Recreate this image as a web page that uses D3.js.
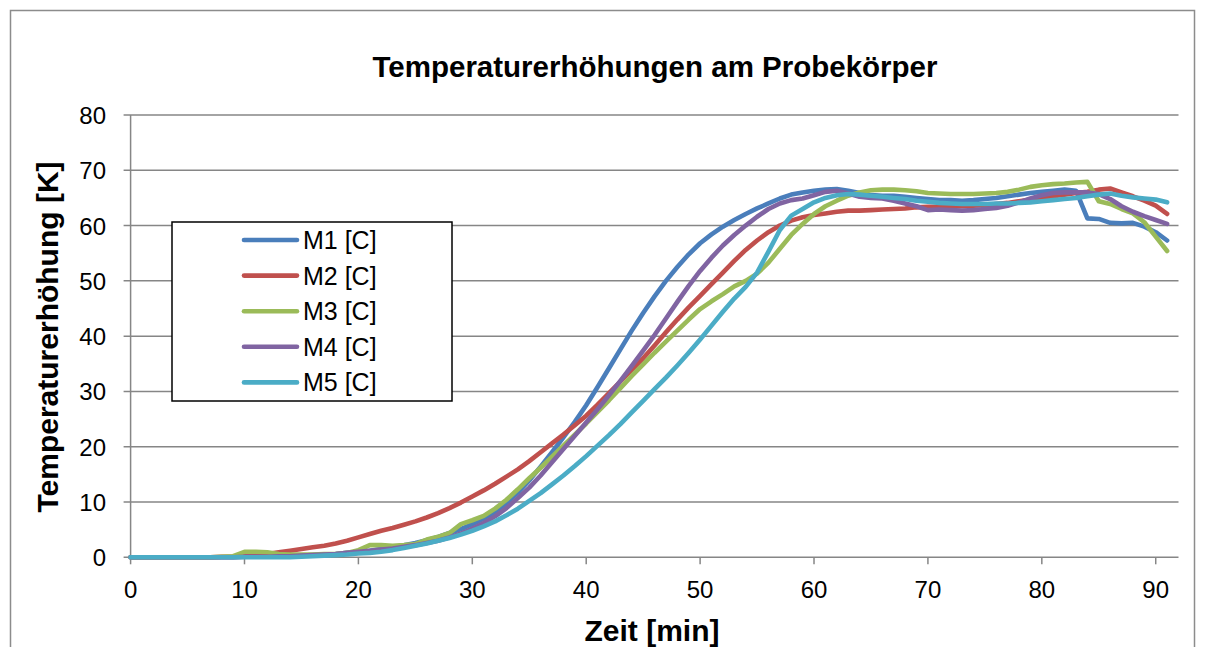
<!DOCTYPE html>
<html>
<head>
<meta charset="utf-8">
<script src="https://cdnjs.cloudflare.com/ajax/libs/d3/7.8.5/d3.min.js"></script>
<style>
    body { margin: 0; background: #fff; }
    svg { font-family: "Liberation Sans", Arial, sans-serif; }
    .grid line { stroke: #868686; stroke-width: 1.5; }
    .series { fill: none; stroke-width: 4.6; stroke-linejoin: round; stroke-linecap: round; }
</style>
</head>
<body>
<div id="chart"></div>
<script>
    const width = 1205;
    const height = 647;

    // time in minutes
    const minutes = d3.range(0, 92);

    const seriesNames = ["M1 [C]", "M2 [C]", "M3 [C]", "M4 [C]", "M5 [C]"];
    const seriesColors = ["#4A7EBB", "#C0504D", "#9BBB59", "#8064A2", "#4BACC6"];

    const m1 = [0,0,0,0,0,0,0,0,0,0,
        0.1,0.1,0.2,0.2,0.3,0.3,0.4,0.5,0.6,0.8,
        1.0,1.2,1.5,1.8,2.2,2.6,3.1,3.7,4.4,5.1,
        6.0,7.0,8.2,9.8,11.7,13.9,16.4,19.0,21.7,24.5,
        27.5,30.8,34.2,37.6,41.0,44.2,47.2,50.0,52.5,54.8,
        56.8,58.4,59.8,61.0,62.1,63.1,64.0,64.9,65.6,66.0,
        66.3,66.5,66.6,66.3,65.9,65.5,65.4,65.4,65.2,65.0,
        64.8,64.6,64.6,64.5,64.6,64.8,65.0,65.3,65.6,65.9,
        66.1,66.3,66.5,66.3,61.3,61.2,60.5,60.4,60.5,59.8,
        58.8,57.3];

    const m2 = [0,0,0,0,0,0,0,0,0.1,0.1,
        0.3,0.4,0.6,0.9,1.2,1.5,1.8,2.1,2.5,3.0,
        3.6,4.2,4.8,5.3,5.9,6.5,7.2,8.0,8.9,9.9,
        11.0,12.1,13.3,14.6,15.9,17.4,19.0,20.6,22.2,23.9,
        25.6,27.6,29.7,31.8,33.9,36.0,38.3,40.7,43.0,45.2,
        47.3,49.4,51.5,53.6,55.6,57.3,58.8,60.0,60.9,61.5,
        61.9,62.2,62.5,62.7,62.7,62.8,62.9,63.0,63.1,63.3,
        63.4,63.4,63.5,63.5,63.6,63.7,63.9,64.1,64.4,64.7,
        65.0,65.3,65.6,65.9,66.1,66.5,66.7,66.0,65.3,64.5,
        63.6,62.1];

    const m3 = [0,0,0,0,0,0,0,0,0.1,0.2,
        1.0,1.0,0.9,0.6,0.5,0.5,0.5,0.6,0.6,0.8,
        1.3,2.2,2.2,2.1,2.2,2.4,3.2,3.7,4.4,6.0,
        6.7,7.5,8.8,10.4,12.3,14.3,16.2,18.2,20.2,22.2,
        24.2,26.3,28.4,30.6,32.8,34.9,37.0,39.0,41.0,43.0,
        44.9,46.3,47.6,49.0,50.0,51.3,53.3,55.8,58.3,60.3,
        62.1,63.5,64.5,65.4,66.0,66.4,66.5,66.5,66.4,66.2,
        65.9,65.8,65.7,65.7,65.7,65.8,65.9,66.1,66.5,67.0,
        67.3,67.5,67.6,67.8,67.9,64.4,63.9,63.0,62.2,60.6,
        58.0,55.4];

    const m4 = [0,0,0,0,0,0,0,0,0,0,
        0.1,0.1,0.1,0.2,0.2,0.3,0.4,0.5,0.6,0.8,
        1.0,1.2,1.4,1.6,1.9,2.2,2.6,3.0,3.6,4.3,
        5.2,6.2,7.4,8.9,10.7,12.6,14.8,17.2,19.6,22.0,
        24.4,26.8,29.3,31.9,34.6,37.4,40.2,43.2,46.2,49.1,
        51.8,54.2,56.4,58.3,60.0,61.6,63.0,64.0,64.6,64.9,
        65.5,66.1,66.3,65.8,65.2,65.0,64.9,64.5,64.0,63.5,
        62.8,62.9,62.8,62.7,62.8,63.0,63.2,63.6,64.2,64.9,
        65.5,65.9,66.0,66.0,66.0,65.7,64.8,63.5,62.5,61.7,
        61.0,60.3];

    const m5 = [0,0,0,0,0,0,0,0,0,0,
        0,0,0,0,0,0.1,0.2,0.3,0.4,0.5,
        0.7,0.8,1.0,1.3,1.7,2.1,2.5,3.0,3.5,4.1,
        4.8,5.6,6.5,7.6,8.8,10.2,11.6,13.2,14.8,16.5,
        18.3,20.2,22.1,24.1,26.2,28.3,30.4,32.5,34.7,37.0,
        39.4,41.9,44.4,46.8,48.9,51.5,55.3,59.2,61.8,63.0,
        64.2,65.0,65.5,65.7,65.6,65.4,65.2,65.0,64.8,64.5,
        64.3,64.1,64.0,63.9,63.9,63.9,64.0,64.0,64.1,64.2,
        64.4,64.6,64.8,65.0,65.3,65.6,65.8,65.4,65.1,64.9,
        64.7,64.2];

    const seriesValues = [m1, m2, m3, m4, m5];

    const xTicks = [0, 10, 20, 30, 40, 50, 60, 70, 80, 90];
    const yTicks = [0, 10, 20, 30, 40, 50, 60, 70, 80];

    const plot = { left: 130.6, right: 1178.5, top: 115, bottom: 557.3 };

    const x = d3.scaleLinear().domain([0, 92]).range([plot.left, plot.right]);
    const y = d3.scaleLinear().domain([0, 80]).range([plot.bottom, plot.top]);

    const svg = d3.select("#chart").append("svg")
        .attr("width", width)
        .attr("height", height);

    // chart border
    svg.append("rect")
        .attr("x", 10.5).attr("y", 10.5)
        .attr("width", 1184).attr("height", 660)
        .attr("fill", "#fff")
        .attr("stroke", "#8c8c8c")
        .attr("stroke-width", 1.5);

    // horizontal gridlines
    svg.append("g")
        .attr("class", "grid")
        .selectAll("line")
        .data(yTicks)
        .enter().append("line")
        .attr("x1", plot.left - 7).attr("x2", plot.right)
        .attr("y1", d => y(d)).attr("y2", d => y(d));

    // y axis line
    svg.append("line")
        .attr("x1", plot.left).attr("x2", plot.left)
        .attr("y1", plot.top).attr("y2", plot.bottom)
        .attr("stroke", "#868686").attr("stroke-width", 1.5);

    // x axis ticks
    svg.append("g")
        .attr("class", "grid")
        .selectAll("line")
        .data(xTicks)
        .enter().append("line")
        .attr("x1", d => x(d)).attr("x2", d => x(d))
        .attr("y1", plot.bottom).attr("y2", plot.bottom + 7);

    // tick labels
    svg.append("g").selectAll("text")
        .data(yTicks)
        .enter().append("text")
        .attr("x", 106)
        .attr("y", d => y(d) + 9)
        .attr("text-anchor", "end")
        .attr("font-size", 24)
        .text(d => d);

    svg.append("g").selectAll("text")
        .data(xTicks)
        .enter().append("text")
        .attr("x", d => x(d))
        .attr("y", 598)
        .attr("text-anchor", "middle")
        .attr("font-size", 24)
        .text(d => d);

    // series lines
    const line = d3.line()
        .x((d, i) => x(minutes[i]))
        .y(d => y(d));

    svg.append("g").selectAll("path")
        .data(seriesValues)
        .enter().append("path")
        .attr("class", "series")
        .attr("stroke", (d, i) => seriesColors[i])
        .attr("d", line);

    // title and axis labels
    svg.append("text")
        .attr("x", 655).attr("y", 77)
        .attr("text-anchor", "middle")
        .attr("font-size", 29.5).attr("font-weight", "bold")
        .text("Temperaturerhöhungen am Probekörper");

    svg.append("text")
        .attr("transform", "translate(58,337) rotate(-90)")
        .attr("text-anchor", "middle")
        .attr("font-size", 30).attr("font-weight", "bold")
        .text("Temperaturerhöhung [K]");

    svg.append("text")
        .attr("x", 652).attr("y", 641)
        .attr("text-anchor", "middle")
        .attr("font-size", 30).attr("font-weight", "bold")
        .text("Zeit [min]");

    // legend
    const legend = svg.append("g");
    legend.append("rect")
        .attr("x", 172).attr("y", 222)
        .attr("width", 280).attr("height", 179)
        .attr("fill", "#fff")
        .attr("stroke", "#000")
        .attr("stroke-width", 1.5);

    const rows = legend.selectAll("g")
        .data(seriesNames)
        .enter().append("g")
        .attr("transform", (d, i) => `translate(0,${240 + i * 35.6})`);

    rows.append("line")
        .attr("x1", 244).attr("x2", 297)
        .attr("y1", 0).attr("y2", 0)
        .attr("stroke", (d, i) => seriesColors[i])
        .attr("stroke-width", 4.6)
        .attr("stroke-linecap", "round");

    rows.append("text")
        .attr("x", 303).attr("y", 9)
        .attr("font-size", 25)
        .text(d => d);
</script>
</body>
</html>
